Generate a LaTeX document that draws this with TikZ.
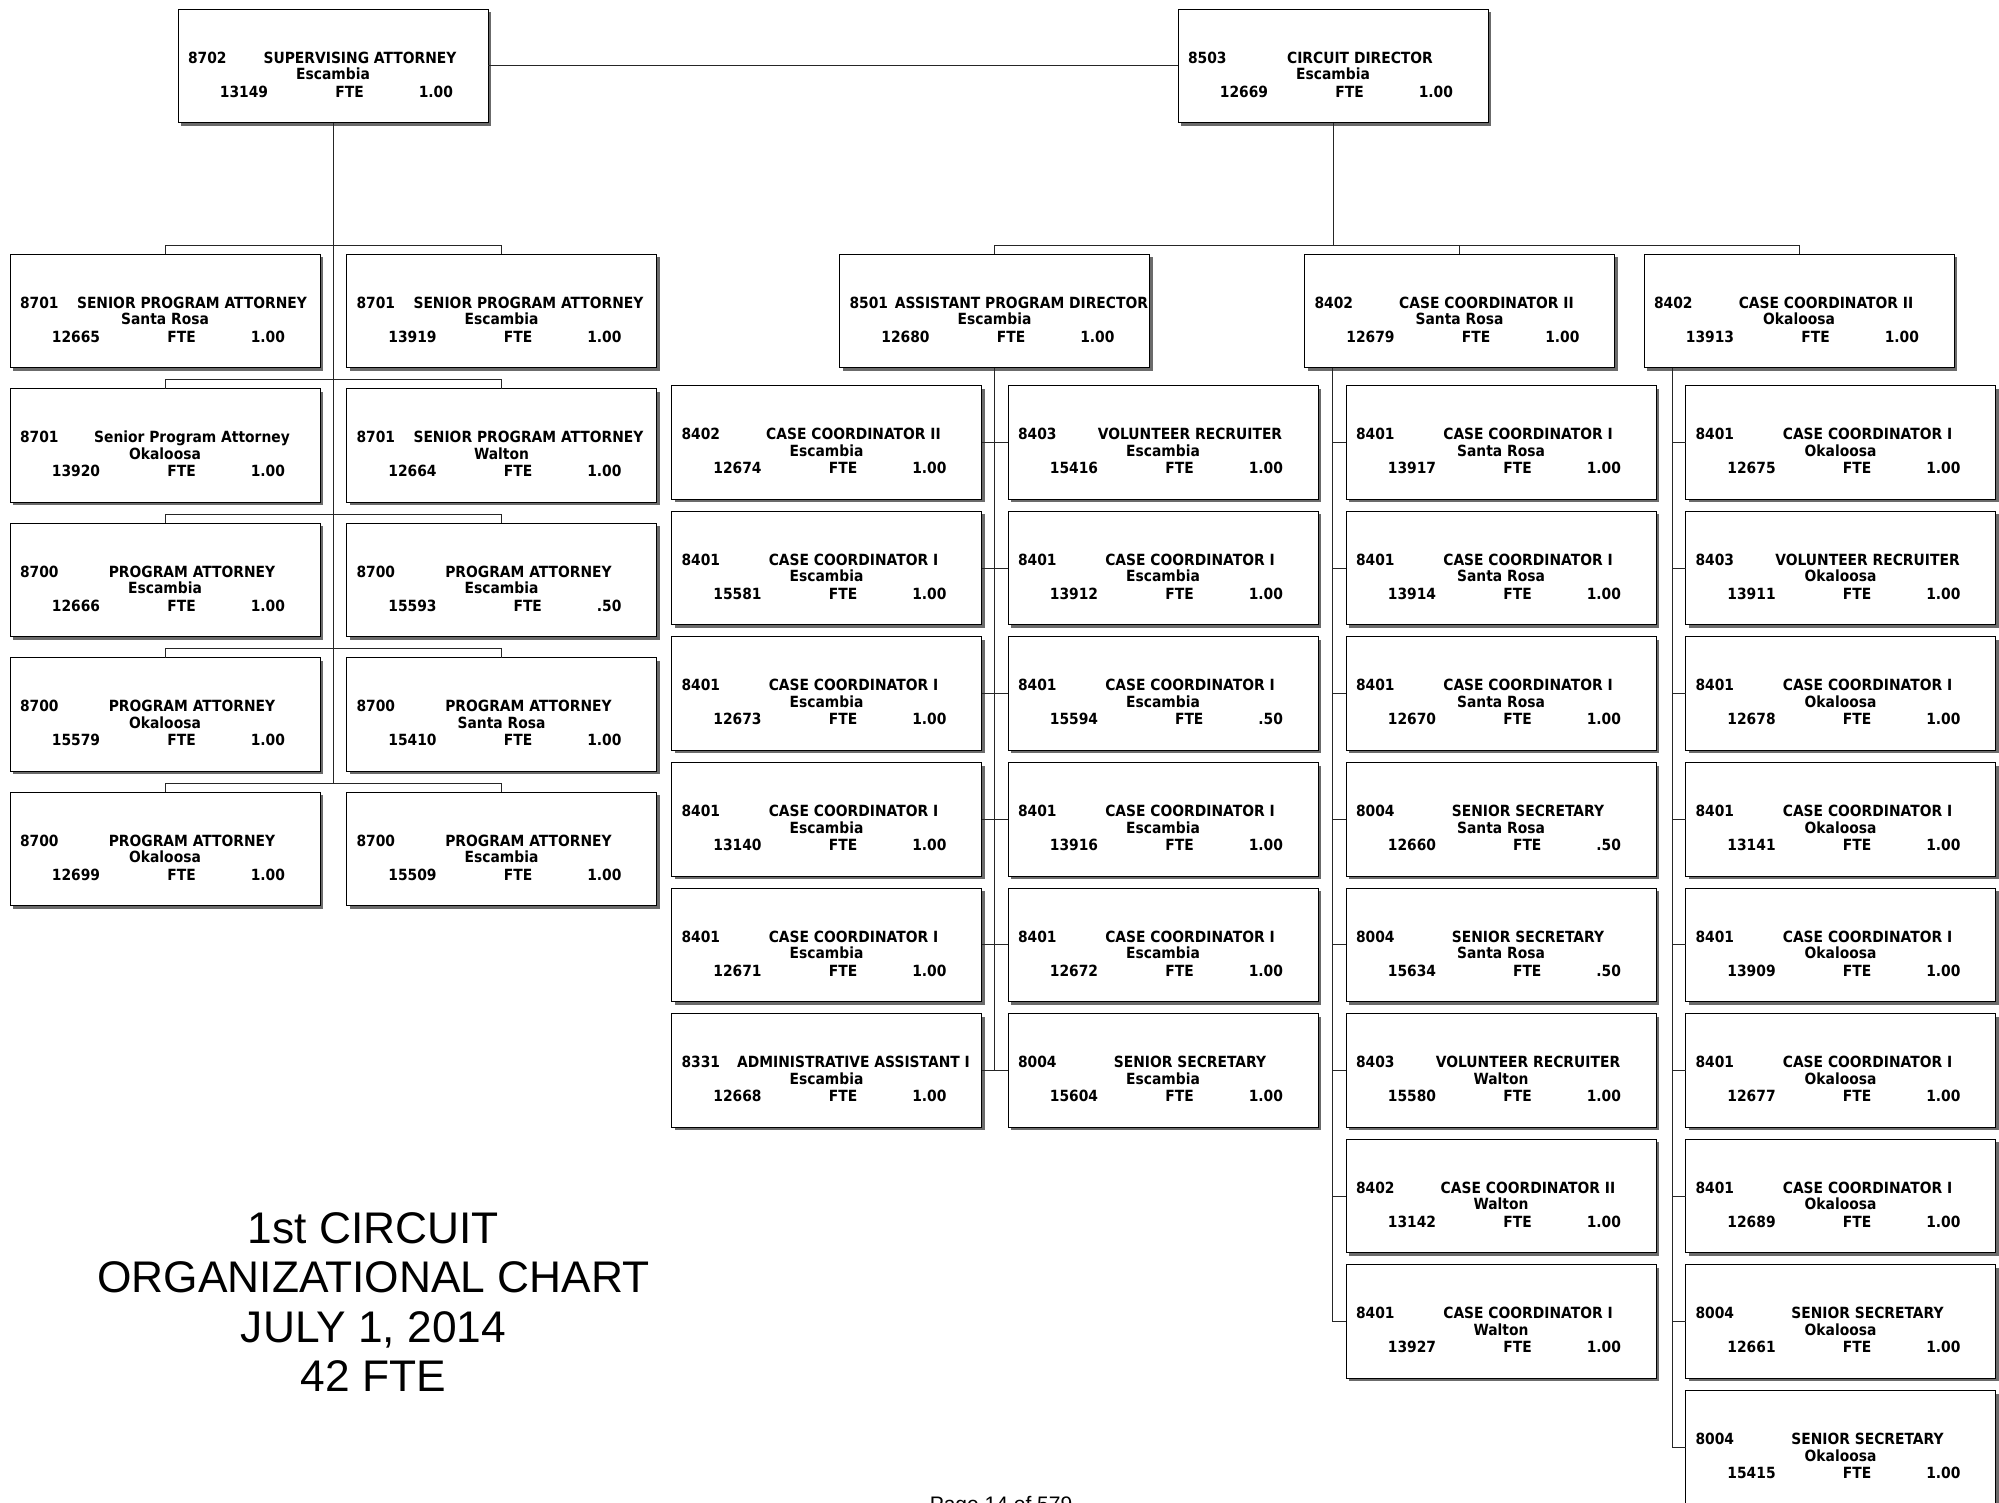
\documentclass[tikz,border=0pt]{standalone}
\usepackage{fontspec}
\usetikzlibrary{positioning,calc,shadows}
\newfontface\posfont{DejaVu Sans Bold}[FakeStretch=0.9]
\newfontfamily\titlefont{Liberation Sans}
\newlength\ttlw
\newlength\codew
\newcommand{\boxsize}{\fontsize{15.4}{17}\selectfont}
\tikzset{
  posbox/.style={draw=black, line width=1pt, fill=white, minimum width=310pt,
                 minimum height=113.5pt, inner sep=0pt, outer sep=0pt, anchor=north west,
                 drop shadow={shadow xshift=3pt, shadow yshift=-3pt, fill=black!58, opacity=1}},
  boxtxt/.style={inner sep=0pt, outer sep=0pt, font=\posfont\boxsize},
  conn/.style={draw=black!85, line width=1pt}}
% #1 name, #2 placement, #3 class code, #4 title, #5 county, #6 position no., #7 fte
\newcommand{\posn}[7]{%
  \node[posbox,#2] (#1) {};
  \settowidth{\ttlw}{\posfont\boxsize #4}%
  \settowidth{\codew}{\posfont\boxsize #3}%
  \pgfmathsetmacro{\tdx}{min(27,149-0.5*\ttlw)}%
  \pgfmathsetmacro{\cin}{max(2,min(10,155+\tdx-0.5*\ttlw-8-\codew))}%
  \node[boxtxt, anchor=base west] (#1c) at ($(#1.north west)+(\cin,54)$) {#3};
  \node[boxtxt, anchor=base] (#1t) at ($(#1.north)+(\tdx,54)$) {#4};
  \node[boxtxt, anchor=base] (#1k) at ($(#1.north)+(0,70.5)$) {#5};
  \node[boxtxt, anchor=base] (#1n) at ($(#1.north west)+(66,88)$) {#6};
  \node[boxtxt, anchor=base east] (#1v) at ($(#1.north west)+(275,88)$) {#7};
  \node[boxtxt, anchor=base east] (#1f) at ($(#1v.base west)+(-55,0)$) {FTE};
}

\begin{document}
\begin{tikzpicture}[x=1pt, y=-1pt]
  \useasboundingbox (0,0) rectangle (1999,1502);
  \fill[white] (0,0) rectangle (1999,1502);
  \clip (0,0) rectangle (1999,1502);

  \posn{sup}{at={(178,9)}}{8702}{SUPERVISING ATTORNEY}{Escambia}{13149}{1.00}
  \posn{cd}{at={(1178,9)}}{8503}{CIRCUIT DIRECTOR}{Escambia}{12669}{1.00}

  \posn{pl1}{at={(10,254)}}{8701}{SENIOR PROGRAM ATTORNEY}{Santa Rosa}{12665}{1.00}
  \posn{pl2}{below=21pt of pl1}{8701}{Senior Program Attorney}{Okaloosa}{13920}{1.00}
  \posn{pl3}{below=21pt of pl2}{8700}{PROGRAM ATTORNEY}{Escambia}{12666}{1.00}
  \posn{pl4}{below=21pt of pl3}{8700}{PROGRAM ATTORNEY}{Okaloosa}{15579}{1.00}
  \posn{pl5}{below=21pt of pl4}{8700}{PROGRAM ATTORNEY}{Okaloosa}{12699}{1.00}
  \posn{pr1}{at={(346.5,254)}}{8701}{SENIOR PROGRAM ATTORNEY}{Escambia}{13919}{1.00}
  \posn{pr2}{below=21pt of pr1}{8701}{SENIOR PROGRAM ATTORNEY}{Walton}{12664}{1.00}
  \posn{pr3}{below=21pt of pr2}{8700}{PROGRAM ATTORNEY}{Escambia}{15593}{.50}
  \posn{pr4}{below=21pt of pr3}{8700}{PROGRAM ATTORNEY}{Santa Rosa}{15410}{1.00}
  \posn{pr5}{below=21pt of pr4}{8700}{PROGRAM ATTORNEY}{Escambia}{15509}{1.00}

  \posn{apd}{at={(839.5,254)}}{8501}{ASSISTANT PROGRAM DIRECTOR}{Escambia}{12680}{1.00}
  \posn{csr}{at={(1304.5,254)}}{8402}{CASE COORDINATOR II}{Santa Rosa}{12679}{1.00}
  \posn{cok}{at={(1644,254)}}{8402}{CASE COORDINATOR II}{Okaloosa}{13913}{1.00}

  \posn{al1}{at={(671.5,385.7)}}{8402}{CASE COORDINATOR II}{Escambia}{12674}{1.00}
  \posn{al2}{below=12.1pt of al1}{8401}{CASE COORDINATOR I}{Escambia}{15581}{1.00}
  \posn{al3}{below=12.1pt of al2}{8401}{CASE COORDINATOR I}{Escambia}{12673}{1.00}
  \posn{al4}{below=12.1pt of al3}{8401}{CASE COORDINATOR I}{Escambia}{13140}{1.00}
  \posn{al5}{below=12.1pt of al4}{8401}{CASE COORDINATOR I}{Escambia}{12671}{1.00}
  \posn{al6}{below=12.1pt of al5}{8331}{ADMINISTRATIVE ASSISTANT I}{Escambia}{12668}{1.00}
  \posn{ar1}{at={(1008,385.7)}}{8403}{VOLUNTEER RECRUITER}{Escambia}{15416}{1.00}
  \posn{ar2}{below=12.1pt of ar1}{8401}{CASE COORDINATOR I}{Escambia}{13912}{1.00}
  \posn{ar3}{below=12.1pt of ar2}{8401}{CASE COORDINATOR I}{Escambia}{15594}{.50}
  \posn{ar4}{below=12.1pt of ar3}{8401}{CASE COORDINATOR I}{Escambia}{13916}{1.00}
  \posn{ar5}{below=12.1pt of ar4}{8401}{CASE COORDINATOR I}{Escambia}{12672}{1.00}
  \posn{ar6}{below=12.1pt of ar5}{8004}{SENIOR SECRETARY}{Escambia}{15604}{1.00}

  \posn{sr1}{at={(1346,385.7)}}{8401}{CASE COORDINATOR I}{Santa Rosa}{13917}{1.00}
  \posn{sr2}{below=12.1pt of sr1}{8401}{CASE COORDINATOR I}{Santa Rosa}{13914}{1.00}
  \posn{sr3}{below=12.1pt of sr2}{8401}{CASE COORDINATOR I}{Santa Rosa}{12670}{1.00}
  \posn{sr4}{below=12.1pt of sr3}{8004}{SENIOR SECRETARY}{Santa Rosa}{12660}{.50}
  \posn{sr5}{below=12.1pt of sr4}{8004}{SENIOR SECRETARY}{Santa Rosa}{15634}{.50}
  \posn{sr6}{below=12.1pt of sr5}{8403}{VOLUNTEER RECRUITER}{Walton}{15580}{1.00}
  \posn{sr7}{below=12.1pt of sr6}{8402}{CASE COORDINATOR II}{Walton}{13142}{1.00}
  \posn{sr8}{below=12.1pt of sr7}{8401}{CASE COORDINATOR I}{Walton}{13927}{1.00}

  \posn{ok1}{at={(1685.5,385.7)}}{8401}{CASE COORDINATOR I}{Okaloosa}{12675}{1.00}
  \posn{ok2}{below=12.1pt of ok1}{8403}{VOLUNTEER RECRUITER}{Okaloosa}{13911}{1.00}
  \posn{ok3}{below=12.1pt of ok2}{8401}{CASE COORDINATOR I}{Okaloosa}{12678}{1.00}
  \posn{ok4}{below=12.1pt of ok3}{8401}{CASE COORDINATOR I}{Okaloosa}{13141}{1.00}
  \posn{ok5}{below=12.1pt of ok4}{8401}{CASE COORDINATOR I}{Okaloosa}{13909}{1.00}
  \posn{ok6}{below=12.1pt of ok5}{8401}{CASE COORDINATOR I}{Okaloosa}{12677}{1.00}
  \posn{ok7}{below=12.1pt of ok6}{8401}{CASE COORDINATOR I}{Okaloosa}{12689}{1.00}
  \posn{ok8}{below=12.1pt of ok7}{8004}{SENIOR SECRETARY}{Okaloosa}{12661}{1.00}
  \posn{ok9}{below=12.1pt of ok8}{8004}{SENIOR SECRETARY}{Okaloosa}{15415}{1.00}

  \draw[conn] (sup.east) -- (cd.west);
  \draw[conn] (sup.south) -- ($(sup.south |- pl5.north)+(0,-9)$);
  \foreach \r in {1,...,5}
    \draw[conn] (pl\r.north) -- ++(0,-9) -| (pr\r.north);
  \draw[conn] (cd.south) -- ($(cd.south |- apd.north)+(0,-9)$);
  \draw[conn] (apd.north) -- ++(0,-9) -| (cok.north);
  \draw[conn] (csr.north) -- ++(0,-9);
  \draw[conn] (apd.south) -- (apd.south |- al6.east);
  \foreach \r in {1,...,6}
    \draw[conn] (al\r.east) -- (ar\r.west);
  \draw[conn] ($(csr.south west)+(28,0)$) |- (sr8.west);
  \foreach \r in {1,...,7}
    \draw[conn] (sr\r.west) -- ++(-13.5,0);
  \draw[conn] ($(cok.south west)+(28,0)$) |- (ok9.west);
  \foreach \r in {1,...,8}
    \draw[conn] (ok\r.west) -- ++(-13.5,0);

  \node[anchor=base, align=center, inner sep=0pt,
        font=\titlefont\fontsize{44.3}{49.3}\selectfont] (title) at (373.5,1391.5)
    {1st CIRCUIT\\ORGANIZATIONAL CHART\\JULY 1, 2014\\42 FTE};
  \node[anchor=base, inner sep=0pt, font=\titlefont\fontsize{21}{25}\selectfont]
    (pageno) at (1001,1511) {Page 14 of 579};
\end{tikzpicture}
\end{document}
